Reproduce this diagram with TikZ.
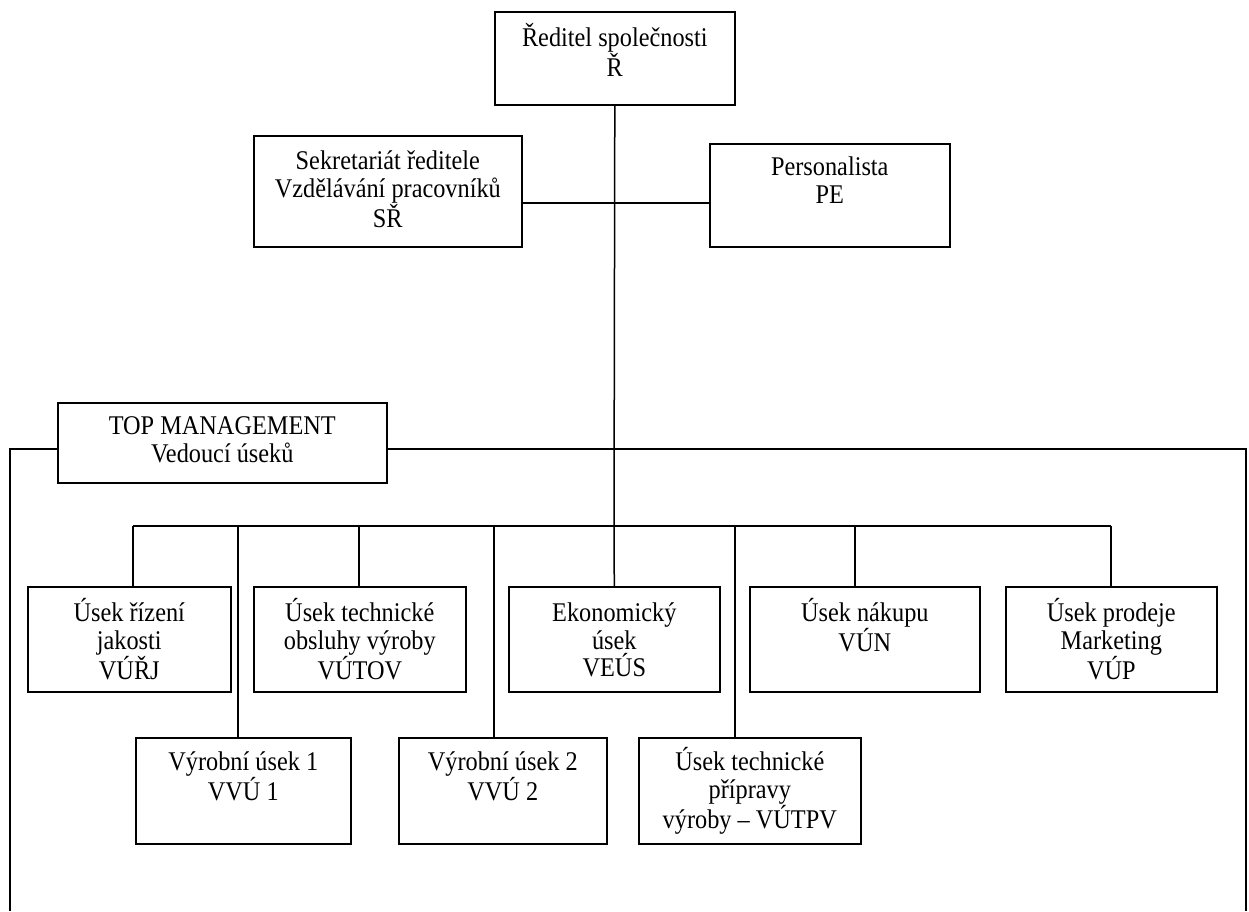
\documentclass[tikz,border=0pt]{standalone}
\usepackage{fontspec}
\setmainfont[FakeStretch=0.9]{Liberation Serif}
% fixed-size box content: width, height, first-baseline drop, lines
\newcommand\orgtext[4]{\parbox[c][#2pt][t]{#1pt}{\centering\rule{0pt}{#3pt}#4}}
\begin{document}
\begin{tikzpicture}[x=1pt,y=-1pt,
  org/.style={draw, line width=1.6pt, inner sep=0pt, anchor=north west,
    font=\fontsize{27}{27.5}\selectfont},
  link/.style={line width=1.5pt}]
\useasboundingbox (0,0) rectangle (1249,911);

% director and staff
\node[org] (R)  at (494,11)  {\orgtext{240}{93}{35}{Ředitel společnosti\\Ř}};
\node[org] (SR) at (253,135) {\orgtext{268}{111}{34}{Sekretariát ředitele\\Vzdělávání pracovníků\\SŘ}};
\node[org] (PE) at (709,143) {\orgtext{240}{103}{32}{Personalista\\PE}};
\node[org] (TOP) at (57,402) {\orgtext{329}{80}{32}{TOP MANAGEMENT\\Vedoucí úseků}};

% departments, upper row
\node[org] (B1) at (27,586)   {\orgtext{203}{105}{35}{Úsek řízení\\jakosti\\VÚŘJ}};
\node[org] (B2) at (253,586)  {\orgtext{212}{105}{35}{Úsek technické\\obsluhy výroby\\VÚTOV}};
\node[org] (B3) at (508,586)  {\orgtext{211}{105}{35}{Ekonomický\\úsek\\VEÚS}};
\node[org] (B4) at (749,586)  {\orgtext{230}{105}{35}{Úsek nákupu\\VÚN}};
\node[org] (B5) at (1005,586) {\orgtext{211}{105}{35}{Úsek prodeje\\Marketing\\VÚP}};

% departments, lower row
\node[org] (C1) at (135,737) {\orgtext{215}{106}{33}{Výrobní úsek 1\\VVÚ 1}};
\node[org] (C2) at (398,737) {\orgtext{208}{106}{33}{Výrobní úsek 2\\VVÚ 2}};
\node[org] (C3) at (638,737) {\orgtext{222}{106}{33}{Úsek technické\\přípravy\\výroby – VÚTPV}};

% junctions
\coordinate (sp) at (614,203);
\coordinate (ft) at (614,449);
\coordinate (fl) at (10,911);
\coordinate (fr) at (1246,911);
\coordinate (j1) at (133,526);
\coordinate (k1) at (238,526);
\coordinate (j2) at (359,526);
\coordinate (k2) at (494,526);
\coordinate (j3) at (614,526);
\coordinate (k3) at (735,526);
\coordinate (j4) at (855,526);
\coordinate (j5) at (1111,526);

% connectors
\draw[link] (R.south) -- (j3);
\draw[link] (SR.east |- sp) -- (PE.west |- sp);
\draw[link] (TOP.west |- ft) -| (fl);
\draw[link] (TOP.east |- ft) -| (fr);
\draw[link] (j1) -- (j5);
\draw[link] (j1) -- (j1 |- B1.north);
\draw[link] (j2) -- (j2 |- B2.north);
\draw[link] (j3) -- (B3.north);
\draw[link] (j4) -- (j4 |- B4.north);
\draw[link] (j5) -- (j5 |- B5.north);
\draw[link] (k1) -- (k1 |- C1.north);
\draw[link] (k2) -- (k2 |- C2.north);
\draw[link] (k3) -- (k3 |- C3.north);
\end{tikzpicture}
\end{document}
